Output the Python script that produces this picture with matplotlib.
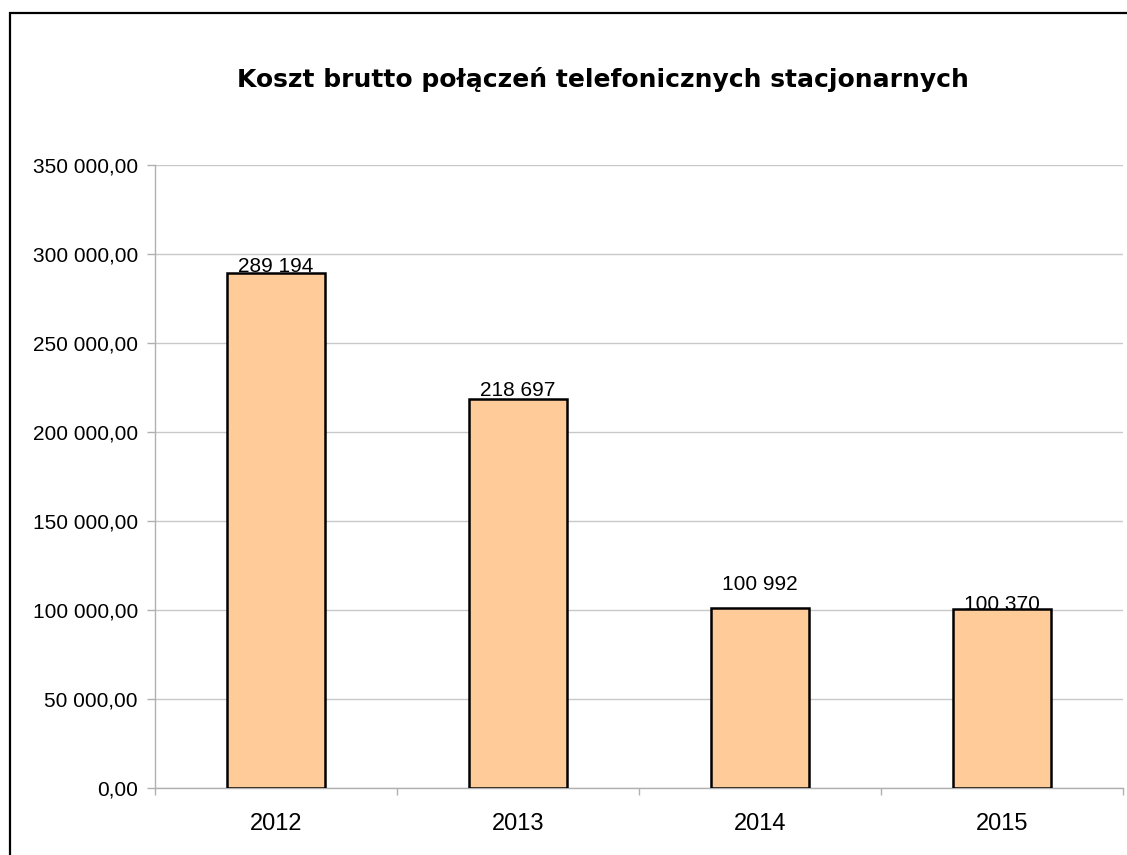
import matplotlib
matplotlib.use('Agg')
import matplotlib.pyplot as plt
from matplotlib.patches import Rectangle
from matplotlib.ticker import FuncFormatter, FixedLocator, MultipleLocator

# data
years = ['2012', '2013', '2014', '2015']
costs = [289194, 218697, 100992, 100370]
title = 'Koszt brutto połączeń telefonicznych stacjonarnych'

W, H = 1127, 855
fig = plt.figure(figsize=(W / 100, H / 100), dpi=100)

# chart frame (runs off the right and bottom edge)
fig.add_artist(Rectangle((9.5 / W, -0.1), 1.2, 1.1 - 13.5 / H, transform=fig.transFigure,
                         fill=False, edgecolor='black', linewidth=1.6))

ax = fig.add_axes([155 / W, 1 - 788 / H, (1123 - 155) / W, (788 - 165) / H])

x = range(len(years))
ax.bar(x, costs, width=0.405, color='#ffcc99', edgecolor='black', linewidth=1.8, zorder=3)

def fmt_y(v, pos):
    s = '{:,.2f}'.format(v)
    return s.replace(',', ' ').replace('.', ',')

ax.set_ylim(0, 350000)
ax.set_xlim(-0.5, len(years) - 0.5)
ax.yaxis.set_major_locator(MultipleLocator(50000))
ax.yaxis.set_major_formatter(FuncFormatter(fmt_y))
ax.yaxis.grid(True, color='#c8c8c8', linewidth=1)
ax.set_axisbelow(True)

ax.set_xticks(list(x))
ax.set_xticklabels(years)
ax.tick_params(axis='x', which='major', length=0, pad=18)
ax.xaxis.set_minor_locator(FixedLocator([i - 0.5 for i in range(len(years) + 1)]))
ax.tick_params(axis='x', which='minor', length=5, color='#b0b0b0', width=1)
ax.tick_params(axis='y', length=5.8, color='#b0b0b0', width=1, pad=6.5)

for sp in ['top', 'right']:
    ax.spines[sp].set_visible(False)
for sp in ['left', 'bottom']:
    ax.spines[sp].set_color('#b0b0b0')
    ax.spines[sp].set_linewidth(1)

for lab in ax.get_yticklabels():
    lab.set_fontfamily('Liberation Sans')
    lab.set_fontsize(15)
for lab in ax.get_xticklabels():
    lab.set_fontfamily('Liberation Sans')
    lab.set_fontsize(17)

# value labels above bars
offsets = [-2, -1, 10, -3]
for i, v in enumerate(costs):
    ax.annotate('{:,}'.format(v).replace(',', ' '), (i, v), xytext=(0, offsets[i]),
                textcoords='offset points', ha='center', va='bottom',
                fontfamily='Liberation Sans', fontsize=15, zorder=4)

fig.text(603 / W, 1 - 80 / H, title, ha='center', va='center',
         fontfamily='DejaVu Sans', fontweight='bold', fontsize=18)

fig.savefig('out.png', dpi=100)
